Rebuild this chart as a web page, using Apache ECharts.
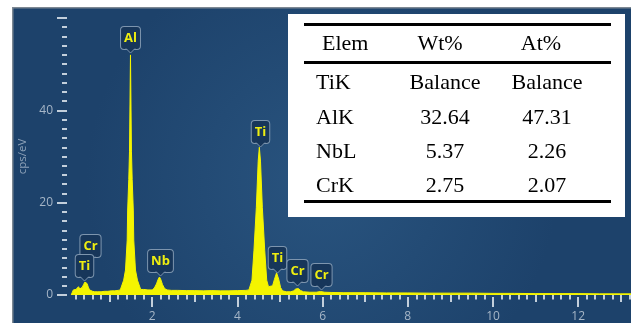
<!DOCTYPE html>
<html>
<head>
<meta charset="utf-8">
<style>
  html, body { margin: 0; padding: 0; background: #ffffff; overflow: hidden; }
  #chart { width: 631px; height: 323px; }
</style>
<script src="https://cdn.jsdelivr.net/npm/echarts@6/dist/echarts.min.js"></script>
</head>
<body>
<div id="chart"></div>
<script>
// EDS spectrum: energy (keV) vs counts (cps/eV)
const spectrum = [
  [0.10, 0], [0.12, 0.5], [0.15, 1.1], [0.18, 1.3], [0.21, 1.2], [0.24, 1.6], [0.27, 1.8],
  [0.30, 1.3], [0.33, 1.2], [0.36, 1.7], [0.39, 2.3], [0.42, 2.8], [0.44, 2.9], [0.47, 2.5],
  [0.50, 1.7], [0.53, 1.1], [0.56, 0.9], [0.60, 0.8], [0.65, 0.7], [0.72, 0.7], [0.80, 0.7],
  [0.88, 0.8], [0.96, 0.8], [1.04, 0.9], [1.12, 0.9], [1.20, 1.0],
  [1.25, 1.1], [1.33, 3.2], [1.373, 5.4], [1.413, 11.9], [1.424, 18.4], [1.45, 25], [1.467, 31],
  [1.49, 52], [1.513, 31], [1.53, 25], [1.556, 18.4], [1.567, 11.9], [1.607, 5.4], [1.654, 3.2],
  [1.73, 1.2], [1.80, 1.2], [1.90, 1.1], [2.00, 1.1],
  [2.05, 1.5], [2.10, 2.4], [2.14, 3.4], [2.17, 3.9], [2.20, 3.4], [2.24, 2.3], [2.29, 1.4], [2.35, 1.1],
  [2.45, 1.0], [2.60, 1.0], [2.80, 0.95], [3.00, 0.95], [3.20, 0.9], [3.40, 0.95], [3.60, 0.9],
  [3.80, 0.9], [4.00, 0.95], [4.20, 1.0],
  [4.27, 1.1], [4.342, 3.2], [4.389, 9.7], [4.445, 19], [4.488, 29], [4.515, 32], [4.542, 29],
  [4.585, 19], [4.641, 9.7], [4.688, 3.2], [4.73, 1.8], [4.77, 1.5],
  [4.826, 2.0], [4.87, 3.4], [4.92, 4.8], [4.97, 3.4], [5.014, 1.6], [5.06, 0.9],
  [5.15, 0.7], [5.25, 0.7], [5.32, 0.9], [5.37, 1.3], [5.40, 1.6], [5.43, 1.4], [5.48, 1.0], [5.55, 0.7],
  [5.70, 0.6], [5.85, 0.6], [5.95, 0.75], [6.05, 0.6], [6.20, 0.55], [6.50, 0.5], [7.00, 0.5],
  [7.50, 0.45], [8.00, 0.45], [8.50, 0.4], [9.00, 0.4], [9.50, 0.4], [10.0, 0.35], [10.5, 0.35],
  [11.0, 0.3], [11.5, 0.3], [12.0, 0.3], [12.5, 0.25], [13.0, 0.25], [13.5, 0.25], [14.0, 0.25]
];

// Peak identification callouts: element, energy (keV), tip height (cps/eV)
const peakNames  = ['Cr',  'Ti',  'Al',  'Nb',  'Ti',  'Ti',  'Cr',  'Cr'];
const peakEnergy = [0.55,  0.40,  1.49,  2.175, 4.52,  4.93,  5.40,  5.97];
const peakTip    = [7.4,   3.0,   52.4,  4.1,   32.1,  4.8,   1.9,   1.1];

// Axis tick values
const xLabelTicks = [2, 4, 6, 8, 10, 12];
const xOddTicks = [1, 3, 5, 7, 9, 11, 13];

// Quantification table
const tableHeader = ['Elem', 'Wt%', 'At%'];
const tableElem = ['TiK', 'AlK', 'NbL', 'CrK'];
const tableWt = ['Balance', '32.64', '5.37', '2.75'];
const tableAt = ['Balance', '47.31', '2.26', '2.07'];

const tickColor = '#c3cfdb';
const labelColor = '#a6b6c7';
const yellow = '#f4f400';
const uiFont = '"Open Sans", "Noto Sans", sans-serif';
const serif = '"Liberation Serif", "DejaVu Serif", serif';

const chart = echarts.init(document.getElementById('chart'), null, { renderer: 'canvas' });

// Table graphics
const tableEls = [];
tableEls.push({ type: 'rect', shape: { x: 288, y: 14, width: 337, height: 203 }, style: { fill: '#ffffff' }, z: 50 });
[24.5, 62.5, 201.5].forEach(function (y) {
  tableEls.push({ type: 'rect', shape: { x: 304, y: y - 1.5, width: 307, height: 3 }, style: { fill: '#000000' }, z: 51 });
});
const headerX = [322, 440, 541];
const headerAlign = ['left', 'center', 'center'];
tableHeader.forEach(function (t, i) {
  tableEls.push({ type: 'text', x: headerX[i], y: 44, z: 52,
    style: { text: t, fill: '#000', font: '22px ' + serif, align: headerAlign[i], verticalAlign: 'middle' } });
});
const rowY = [83, 118, 152, 186];
tableElem.forEach(function (t, i) {
  tableEls.push({ type: 'text', x: 316, y: rowY[i], z: 52,
    style: { text: t, fill: '#000', font: '22px ' + serif, align: 'left', verticalAlign: 'middle' } });
  tableEls.push({ type: 'text', x: 445, y: rowY[i], z: 52,
    style: { text: tableWt[i], fill: '#000', font: '22px ' + serif, align: 'center', verticalAlign: 'middle' } });
  tableEls.push({ type: 'text', x: 547, y: rowY[i], z: 52,
    style: { text: tableAt[i], fill: '#000', font: '22px ' + serif, align: 'center', verticalAlign: 'middle' } });
});

const option = {
  backgroundColor: '#ffffff',
  animation: false,
  graphic: [
    { type: 'rect', z: -100, shape: { x: 13, y: 8, width: 618, height: 315 },
      style: { fill: { type: 'radial', x: 0.5, y: 0.55, r: 0.75,
        colorStops: [{ offset: 0, color: '#29547f' }, { offset: 1, color: '#1d426b' }] } } },
    { type: 'rect', z: -99, shape: { x: 13, y: 7, width: 618, height: 1.5 }, style: { fill: '#7d8893' } },
    { type: 'rect', z: -99, shape: { x: 12, y: 7, width: 1.5, height: 316 }, style: { fill: '#7d8893' } }
  ].concat(tableEls),
  grid: { left: 67, top: 18, bottom: 28, width: 596.4, outerBoundsMode: 'none', containLabel: false },
  xAxis: [
    {
      type: 'value', min: 0, max: 14, interval: 1, position: 'bottom', offset: 2,
      axisLine: { show: false },
      axisTick: { show: true, length: 7, customValues: xOddTicks, lineStyle: { color: tickColor, width: 2 } },
      minorTick: { show: true, splitNumber: 5, length: 4.5, lineStyle: { color: tickColor, width: 2 } },
      axisLabel: { show: false },
      splitLine: { show: false }, minorSplitLine: { show: false }
    },
    {
      type: 'value', min: 0, max: 14, interval: 2, position: 'bottom', offset: 2,
      axisLine: { show: false },
      axisTick: { show: true, length: 10, customValues: xLabelTicks, lineStyle: { color: tickColor, width: 2 } },
      axisLabel: { show: true, customValues: xLabelTicks, color: labelColor, fontSize: 12, fontFamily: uiFont, margin: 14,
        formatter: function (v) { return v === 0 ? '' : String(v); } },
      splitLine: { show: false }
    }
  ],
  yAxis: {
    type: 'value', min: 0, max: 60, interval: 20,
    axisLine: { show: false },
    axisTick: { show: true, length: 10, lineStyle: { color: tickColor, width: 2 } },
    minorTick: { show: true, splitNumber: 10, length: 5, lineStyle: { color: tickColor, width: 2 } },
    axisLabel: { color: labelColor, fontSize: 12, fontFamily: uiFont, margin: 14,
      formatter: function (v) { return v === 60 ? '' : String(v); } },
    splitLine: { show: false }, minorSplitLine: { show: false },
    name: 'cps/eV', nameLocation: 'middle', nameGap: 36, nameRotate: 90,
    nameTextStyle: { color: '#8ea2b8', fontSize: 11.5, fontFamily: uiFont }
  },
  series: [
    {
      type: 'line', xAxisIndex: 0, data: spectrum, symbol: 'none', smooth: false,
      lineStyle: { color: yellow, width: 1 },
      areaStyle: { color: yellow, opacity: 1 },
      z: 3
    },
    {
      type: 'custom', xAxisIndex: 0, z: 10, clip: false,
      data: peakNames.map(function (n, i) { return [peakEnergy[i], peakTip[i]]; }),
      renderItem: function (params, api) {
        const p = api.coord([api.value(0), api.value(1)]);
        const x = Math.round(p[0]) + 0.5, y = Math.round(p[1]);
        const fill = '#17365a', stroke = '#7d95ae';
        return {
          type: 'group',
          children: [
            { type: 'text', x: x, y: y - 4,
              style: { text: peakNames[params.dataIndex], fill: '#eeee10', fontSize: 13, fontWeight: 'bold',
                fontFamily: uiFont, align: 'center', verticalAlign: 'bottom', lineHeight: 14,
                backgroundColor: fill, borderColor: stroke, borderWidth: 1, borderRadius: 3,
                padding: [4, 3, 4, 3] } },
            { type: 'polygon', shape: { points: [[x - 4.5, y - 4.6], [x + 4.5, y - 4.6], [x, y]] },
              style: { fill: fill } },
            { type: 'polyline', shape: { points: [[x - 4.5, y - 4.5], [x, y], [x + 4.5, y - 4.5]] },
              style: { stroke: stroke, lineWidth: 1, fill: null } }
          ]
        };
      }
    }
  ]
};

chart.setOption(option);
</script>
</body>
</html>
